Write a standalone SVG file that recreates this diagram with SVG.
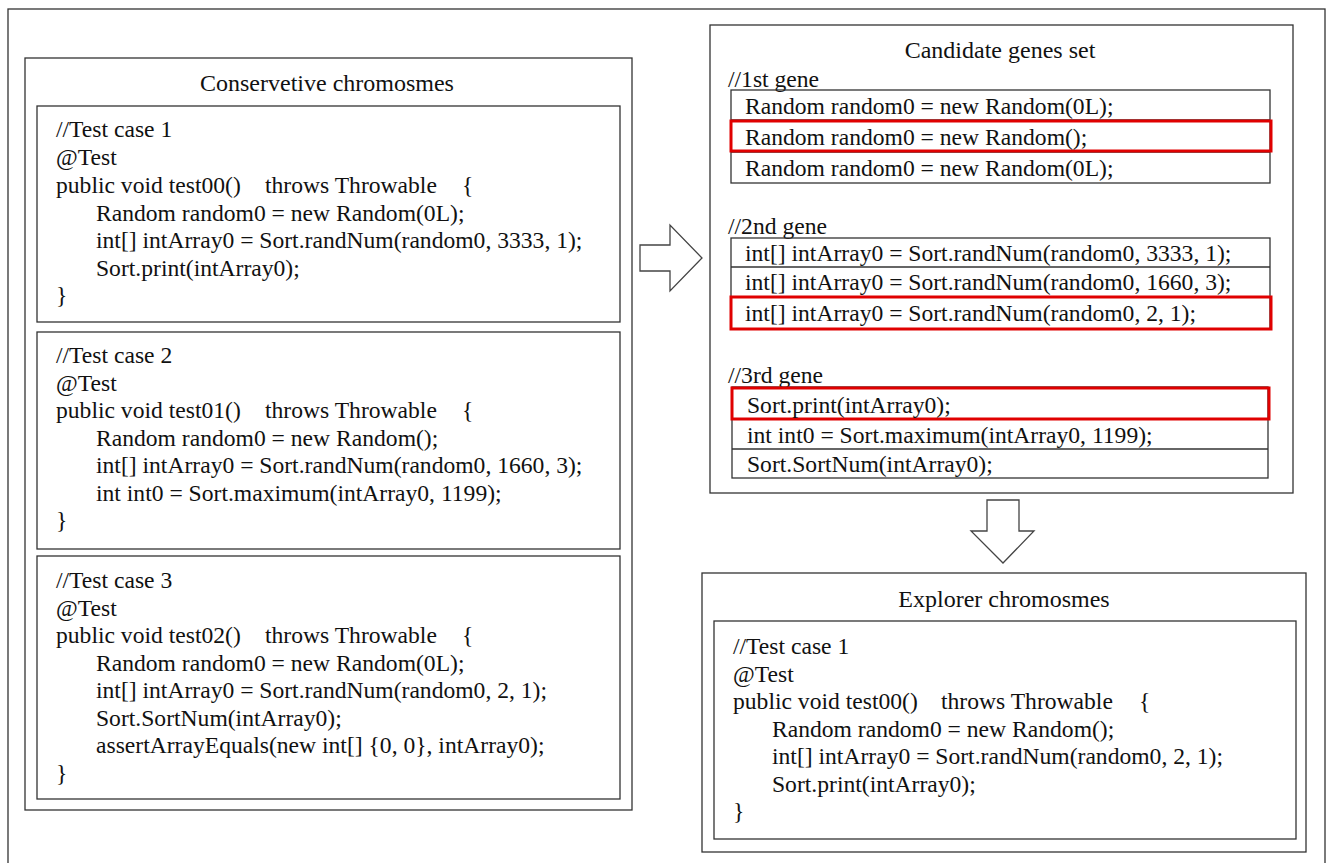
<svg xmlns="http://www.w3.org/2000/svg" width="1328" height="863" viewBox="0 0 1328 863">
<style>
.bx{fill:none;stroke:#333;stroke-width:1.3}
.red{fill:none;stroke:#e00000;stroke-width:3}
.t{font-family:"Liberation Serif","Times New Roman",serif;font-size:23.6px;fill:#111}
.ti{font-family:"Liberation Serif","Times New Roman",serif;font-size:24px;fill:#111;text-anchor:middle}
.arr{fill:#fff;stroke:#444;stroke-width:1.3}
</style>
<rect width="1328" height="863" fill="#fff"/>
<rect x="8" y="9" width="1317" height="870" class="bx"/>

<g id="conservative">
<rect x="25" y="58" width="607" height="752" class="bx"/>
<text x="327" y="91" class="ti">Conservetive chromosmes</text>
</g>

<g id="tc1">
<rect x="37" y="106" width="583" height="216" class="bx"/>
<text class="t" x="56" y="137">//Test case 1</text>
<text class="t" x="56" y="165">@Test</text>
<text class="t" x="56" y="193">public void test00()</text>
<text class="t" x="265" y="193">throws Throwable</text>
<text class="t" x="462" y="193">{</text>
<text class="t" x="96" y="221">Random random0 = new Random(0L);</text>
<text class="t" x="96" y="248">int[] intArray0 = Sort.randNum(random0, 3333, 1);</text>
<text class="t" x="96" y="276">Sort.print(intArray0);</text>
<text class="t" x="56" y="303">}</text>
</g>

<g id="tc2">
<rect x="37" y="332" width="583" height="217" class="bx"/>
<text class="t" x="56" y="363">//Test case 2</text>
<text class="t" x="56" y="391">@Test</text>
<text class="t" x="56" y="418">public void test01()</text>
<text class="t" x="265" y="418">throws Throwable</text>
<text class="t" x="462" y="418">{</text>
<text class="t" x="96" y="446">Random random0 = new Random();</text>
<text class="t" x="96" y="473">int[] intArray0 = Sort.randNum(random0, 1660, 3);</text>
<text class="t" x="96" y="501">int int0 = Sort.maximum(intArray0, 1199);</text>
<text class="t" x="56" y="528">}</text>
</g>

<g id="tc3">
<rect x="37" y="556" width="583" height="243" class="bx"/>
<text class="t" x="56" y="588">//Test case 3</text>
<text class="t" x="56" y="616">@Test</text>
<text class="t" x="56" y="643">public void test02()</text>
<text class="t" x="265" y="643">throws Throwable</text>
<text class="t" x="462" y="643">{</text>
<text class="t" x="96" y="671">Random random0 = new Random(0L);</text>
<text class="t" x="96" y="698">int[] intArray0 = Sort.randNum(random0, 2, 1);</text>
<text class="t" x="96" y="726">Sort.SortNum(intArray0);</text>
<text class="t" x="96" y="753">assertArrayEquals(new int[] {0, 0}, intArray0);</text>
<text class="t" x="56" y="781">}</text>
</g>

<g id="connectors">
<polygon class="arr" points="640,245 670,245 670,225 702,258 670,291 670,271 640,271"/>
<polygon class="arr" points="987,500 1019,500 1019,531 1034,531 1003,563 971,531 987,531"/>
</g>

<g id="candidates">
<rect x="710" y="25" width="583" height="468" class="bx"/>
<text x="1000" y="58" class="ti">Candidate genes set</text>
<text class="t" x="728" y="87">//1st gene</text>
<rect x="731" y="90" width="539" height="93" class="bx"/>
<line x1="731" y1="120" x2="1270" y2="120" class="bx"/>
<line x1="731" y1="152" x2="1270" y2="152" class="bx"/>
<rect x="731" y="121" width="540" height="30" class="red"/>
<text class="t" x="745" y="114">Random random0 = new Random(0L);</text>
<text class="t" x="745" y="145">Random random0 = new Random();</text>
<text class="t" x="745" y="176">Random random0 = new Random(0L);</text>

<text class="t" x="728" y="234">//2nd gene</text>
<rect x="731" y="238" width="539" height="91" class="bx"/>
<line x1="731" y1="267" x2="1270" y2="267" class="bx"/>
<line x1="731" y1="297" x2="1270" y2="297" class="bx"/>
<rect x="731" y="297" width="540" height="32" class="red"/>
<text class="t" x="745" y="261">int[] intArray0 = Sort.randNum(random0, 3333, 1);</text>
<text class="t" x="745" y="290">int[] intArray0 = Sort.randNum(random0, 1660, 3);</text>
<text class="t" x="745" y="321">int[] intArray0 = Sort.randNum(random0, 2, 1);</text>

<text class="t" x="728" y="383">//3rd gene</text>
<rect x="732" y="387" width="536" height="91" class="bx"/>
<line x1="732" y1="419" x2="1268" y2="419" class="bx"/>
<line x1="732" y1="449" x2="1268" y2="449" class="bx"/>
<rect x="732" y="388" width="537" height="31" class="red"/>
<text class="t" x="747" y="413">Sort.print(intArray0);</text>
<text class="t" x="747" y="443">int int0 = Sort.maximum(intArray0, 1199);</text>
<text class="t" x="747" y="472">Sort.SortNum(intArray0);</text>
</g>

<g id="explorer">
<rect x="702" y="573" width="604" height="279" class="bx"/>
<text x="1004" y="607" class="ti">Explorer chromosmes</text>
<rect x="714" y="621" width="582" height="218" class="bx"/>
<text class="t" x="733" y="654">//Test case 1</text>
<text class="t" x="733" y="682">@Test</text>
<text class="t" x="733" y="709">public void test00()</text>
<text class="t" x="941" y="709">throws Throwable</text>
<text class="t" x="1139" y="709">{</text>
<text class="t" x="772" y="737">Random random0 = new Random();</text>
<text class="t" x="772" y="764">int[] intArray0 = Sort.randNum(random0, 2, 1);</text>
<text class="t" x="772" y="792">Sort.print(intArray0);</text>
<text class="t" x="733" y="819">}</text>
</g>
</svg>
